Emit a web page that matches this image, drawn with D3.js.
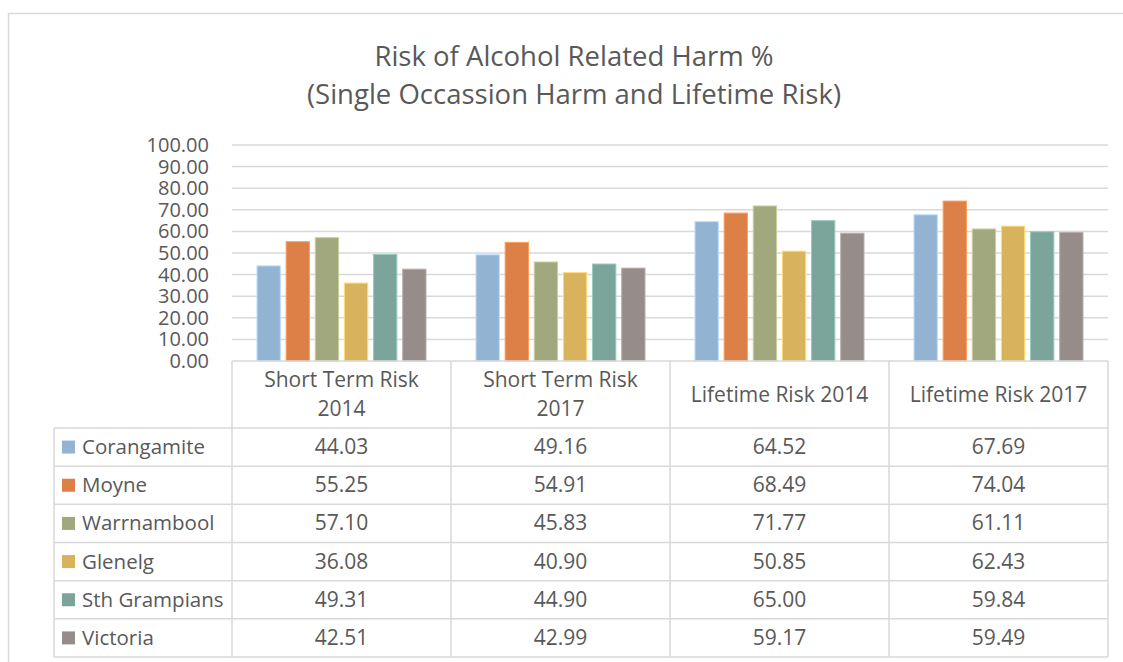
<!DOCTYPE html>
<html>
<head>
<meta charset="utf-8">
<script src="https://cdn.jsdelivr.net/npm/d3@7"></script>
<style>
  html, body { margin: 0; padding: 0; background: #fff; }
  svg { display: block; font-family: "Open Sans", "Noto Sans", sans-serif; }
</style>
</head>
<body>
<svg id="chart" width="1123" height="662"></svg>
<script>
// Categories (columns of the data table) and the regions shown as series
const categories = [["Short Term Risk", "2014"], ["Short Term Risk", "2017"], ["Lifetime Risk 2014"], ["Lifetime Risk 2017"]];
const categoryKeys = ["ST2014", "ST2017", "LT2014", "LT2017"];
const seriesNames = ["Corangamite", "Moyne", "Warrnambool", "Glenelg", "Sth Grampians", "Victoria"];
const seriesColors = ["#93B3D3", "#DD8047", "#A2A87D", "#D8B25C", "#7BA59A", "#968C8A"];

// Values per region, in category order
const corangamite = [44.03, 49.16, 64.52, 67.69];
const moyne = [55.25, 54.91, 68.49, 74.04];
const warrnambool = [57.10, 45.83, 71.77, 61.11];
const glenelg = [36.08, 40.90, 50.85, 62.43];
const sthGrampians = [49.31, 44.90, 65.00, 59.84];
const victoria = [42.51, 42.99, 59.17, 59.49];
const seriesValues = [corangamite, moyne, warrnambool, glenelg, sthGrampians, victoria];

const yTicks = [0, 10, 20, 30, 40, 50, 60, 70, 80, 90, 100];

const svg = d3.select("#chart");
const textColor = "#595959";
const gridColor = "#D9D9D9";

// Outer chart frame
svg.append("rect")
  .attr("x", 8.5).attr("y", 13.5)
  .attr("width", 1200).attr("height", 700)
  .attr("fill", "none").attr("stroke", gridColor).attr("stroke-width", 1.5);

// Title
const title = svg.append("text")
  .attr("text-anchor", "middle")
  .attr("fill", textColor).style("font-size", "27.5px");
title.append("tspan").attr("x", 574).attr("y", 66).text("Risk of Alcohol Related Harm %");
title.append("tspan").attr("x", 574).attr("y", 104).text("(Single Occassion Harm and Lifetime Risk)");

// Scales
const plotLeft = 232, plotRight = 1108, plotTop = 145, plotBottom = 361;
const x0 = d3.scaleBand().domain(categoryKeys).range([plotLeft, plotRight]).padding(0);
const groupPad = 25;
const x1 = d3.scaleBand().domain(seriesNames)
  .range([groupPad, x0.bandwidth() - groupPad]).paddingInner(0.2);
const y = d3.scaleLinear().domain([0, 100]).range([plotBottom, plotTop]);

// Gridlines
svg.append("g").selectAll("line").data(yTicks.filter(d => d > 0)).join("line")
  .attr("x1", plotLeft).attr("x2", plotRight)
  .attr("y1", d => y(d)).attr("y2", d => y(d))
  .attr("stroke", gridColor).attr("stroke-width", 1.5);

// Y axis labels
const yAxis = d3.axisLeft(y).tickValues(yTicks).tickFormat(d3.format(".2f")).tickSize(0).tickPadding(0);
const yg = svg.append("g").attr("transform", `translate(${plotLeft - 23},0)`).call(yAxis);
yg.select(".domain").remove();
yg.selectAll("text").attr("fill", textColor).style("font-size", "20px")
  .style("font-family", "'Open Sans', sans-serif");

// Bars
const groups = svg.append("g").selectAll("g").data(categoryKeys).join("g")
  .attr("transform", d => `translate(${x0(d)},0)`);
groups.selectAll("rect")
  .data((d, ci) => seriesNames.map((s, si) => ({ s, si, v: seriesValues[si][ci] })))
  .join("rect")
  .attr("x", d => x1(d.s))
  .attr("y", d => y(d.v))
  .attr("width", x1.bandwidth())
  .attr("height", d => y(0) - y(d.v))
  .attr("fill", d => seriesColors[d.si])
  .attr("stroke", d => d3.color(seriesColors[d.si]).brighter(0.6))
  .attr("stroke-width", 1);

// Data table
const tableLeft = 54;
const headerTop = 361, headerBottom = 428;
const rowH = (657 - headerBottom) / seriesNames.length;
const colEdges = categoryKeys.map(k => x0(k)).concat([plotRight]);
const tg = svg.append("g");
const line = (ax, ay, bx, by) => tg.append("line")
  .attr("x1", ax).attr("y1", ay).attr("x2", bx).attr("y2", by)
  .attr("stroke", gridColor).attr("stroke-width", 1.5);

// horizontal lines
line(plotLeft, headerTop, plotRight, headerTop);
for (let i = 0; i <= seriesNames.length; i++) {
  const yy = headerBottom + i * rowH;
  line(tableLeft, yy, plotRight, yy);
}
// vertical lines
colEdges.forEach(xx => line(xx, headerTop, xx, headerBottom + seriesNames.length * rowH));
line(tableLeft, headerBottom, tableLeft, headerBottom + seriesNames.length * rowH);

// header labels
categoryKeys.forEach((k, ci) => {
  const cx = x0(k) + x0.bandwidth() / 2;
  const lines = categories[ci];
  const t = tg.append("text").attr("text-anchor", "middle").attr("fill", textColor)
    .style("font-size", "21px");
  const cy = (headerTop + headerBottom) / 2;
  lines.forEach((ln, li) => {
    t.append("tspan").attr("x", cx)
      .attr("y", cy + 7 + (li - (lines.length - 1) / 2) * 29)
      .text(ln);
  });
});

// rows: legend key + values
seriesNames.forEach((s, si) => {
  const top = headerBottom + si * rowH;
  const cy = top + rowH / 2;
  tg.append("rect").attr("x", 62).attr("y", cy - 6.5).attr("width", 13).attr("height", 13)
    .attr("fill", seriesColors[si]);
  tg.append("text").attr("x", 82).attr("y", cy + 7).attr("fill", textColor)
    .style("font-size", "20.5px").text(s);
  categoryKeys.forEach((k, ci) => {
    tg.append("text").attr("x", x0(k) + x0.bandwidth() / 2).attr("y", cy + 7)
      .attr("text-anchor", "middle").attr("fill", textColor).style("font-size", "21px")
      .text(d3.format(".2f")(seriesValues[si][ci]));
  });
});
</script>
</body>
</html>
